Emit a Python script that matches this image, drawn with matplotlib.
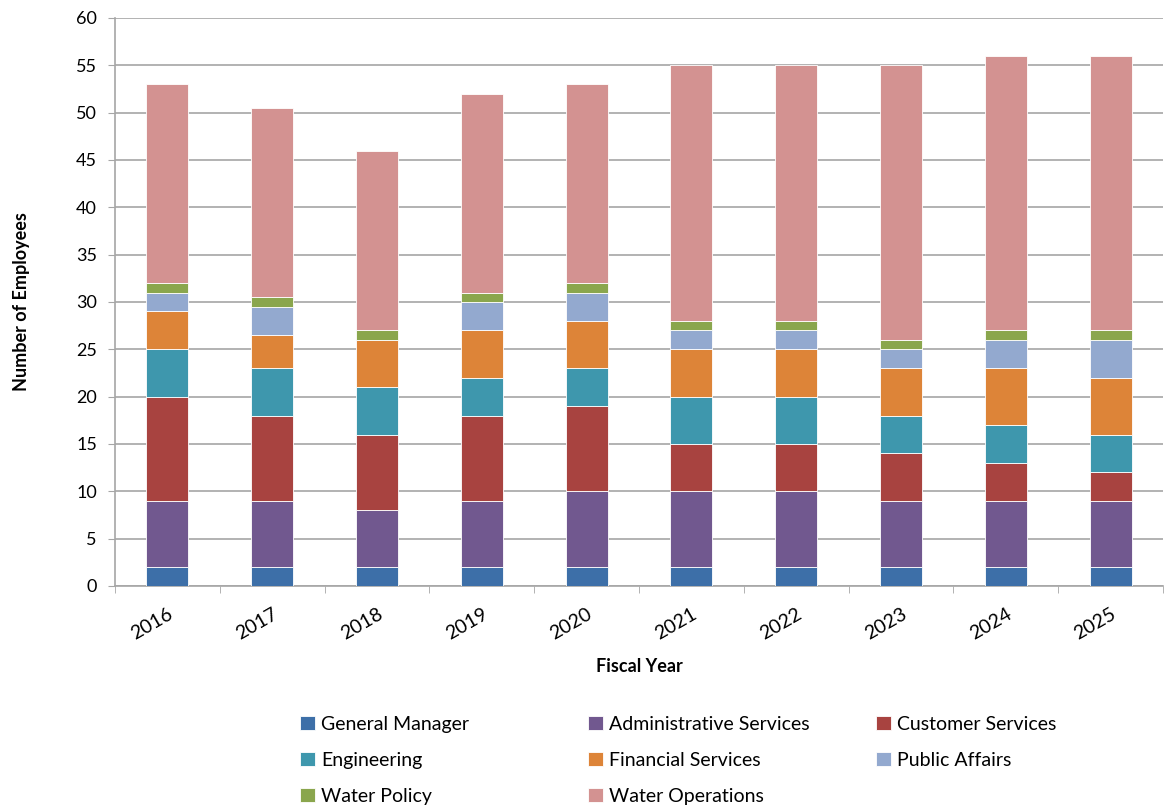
import matplotlib.pyplot as plt
import numpy as np

plt.rcParams['font.family'] = ['Lato', 'DejaVu Sans']

years = ['2016', '2017', '2018', '2019', '2020', '2021', '2022', '2023', '2024', '2025']
general_manager = [2, 2, 2, 2, 2, 2, 2, 2, 2, 2]
admin_services = [7, 7, 6, 7, 8, 8, 8, 7, 7, 7]
customer_services = [11, 9, 8, 9, 9, 5, 5, 5, 4, 3]
engineering = [5, 5, 5, 4, 4, 5, 5, 4, 4, 4]
financial_services = [4, 3.5, 5, 5, 5, 5, 5, 5, 6, 6]
public_affairs = [2, 3, 0, 3, 3, 2, 2, 2, 3, 4]
water_policy = [1, 1, 1, 1, 1, 1, 1, 1, 1, 1]
water_operations = [21, 20, 19, 21, 21, 27, 27, 29, 29, 29]

series = [
    ('General Manager', general_manager, '#3d6fa8'),
    ('Administrative Services', admin_services, '#71588f'),
    ('Customer Services', customer_services, '#a84340'),
    ('Engineering', engineering, '#3e97ad'),
    ('Financial Services', financial_services, '#dd8438'),
    ('Public Affairs', public_affairs, '#93a9cf'),
    ('Water Policy', water_policy, '#8aa64d'),
    ('Water Operations', water_operations, '#d39291'),
]

W, H = 1164, 808
fig = plt.figure(figsize=(W / 100, H / 100), dpi=100)
ax = fig.add_axes([115 / W, 1 - 586 / H, 1048 / W, 568 / H])

x = np.arange(len(years))
bottom = np.zeros(len(years))
handles = []
for name, vals, color in series:
    vals = np.array(vals, dtype=float)
    h = ax.bar(x, vals, 0.4, bottom=bottom, color=color, edgecolor='white',
               linewidth=0.6, label=name, zorder=3)
    handles.append(h)
    bottom += vals

ax.set_xlim(-0.5, len(years) - 0.5)
ax.set_ylim(0, 60)
ax.set_yticks(np.arange(0, 61, 5))
ax.set_xticks(x)
ax.set_xticklabels(years, rotation=30, fontsize=14, ha='right', rotation_mode='anchor')
ax.tick_params(axis='y', labelsize=13, length=5, color='#a6a6a6', pad=8)
ax.tick_params(axis='x', length=0, pad=14)
ax.set_xticks(np.arange(-0.5, len(years), 1), minor=True)
ax.tick_params(axis='x', which='minor', length=5, color='#a6a6a6')
ax.grid(axis='y', color='#a6a6a6', linewidth=1.2, zorder=0)
for side in ['top', 'right']:
    ax.spines[side].set_visible(False)
for side in ['left', 'bottom']:
    ax.spines[side].set_color('#a6a6a6')
    ax.spines[side].set_linewidth(1.2)

ax.set_xlabel('Fiscal Year', fontsize=13, fontweight='bold', labelpad=11)
ax.set_ylabel('Number of Employees', fontsize=13, fontweight='bold', labelpad=33)

# legend laid out row by row in three evenly spaced columns
col_x = [300, 588, 876]
for c in range(3):
    idx = list(range(c, len(series), 3))
    fig.legend([handles[i] for i in idx], [series[i][0] for i in idx],
               loc='upper left', bbox_to_anchor=(col_x[c] / W, 1 - 716 / H),
               frameon=False, fontsize=14, handlelength=0.75, handleheight=0.75,
               handletextpad=0.35, labelspacing=0.98, borderpad=0, borderaxespad=0)

plt.savefig('out.png', dpi=100)
